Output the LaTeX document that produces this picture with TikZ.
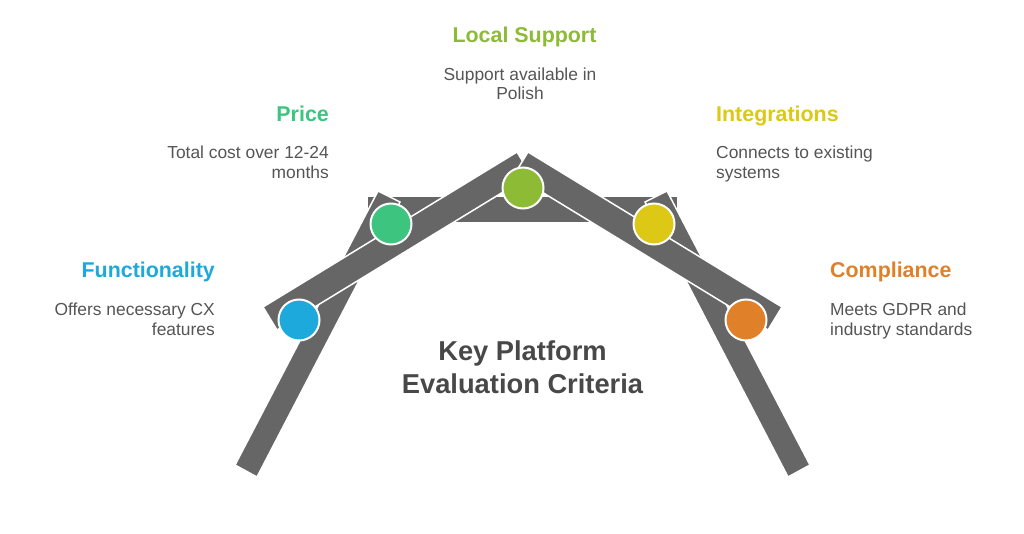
\documentclass[tikz,border=0pt]{standalone}
\usepackage{fontspec}
\setmainfont{Liberation Sans}
\definecolor{cblue}{HTML}{1EA9DC}
\definecolor{cgreen}{HTML}{3DC47E}
\definecolor{colive}{HTML}{8DBB35}
\definecolor{cyellow}{HTML}{DCC815}
\definecolor{corange}{HTML}{E0812A}
\definecolor{barc}{HTML}{666666}
\definecolor{descc}{HTML}{555555}
\definecolor{keyc}{HTML}{484848}
\tikzset{
  beam/.style={fill=barc, draw=white, line width=1.5pt, line join=miter},
  dot/.style={circle, minimum size=41pt, inner sep=0pt, draw=white, line width=2pt},
  ttl/.style={font=\fontsize{21.4}{25}\selectfont\bfseries, inner sep=0pt},
  dsc/.style={font=\fontsize{17.4}{20}\selectfont, text=descc, inner sep=0pt},
  keytext/.style={font=\fontsize{27.3}{33}\selectfont\bfseries, text=keyc, inner sep=0pt, align=center}
}
\begin{document}
\begin{tikzpicture}[x=1pt, y=-1pt]
\useasboundingbox[fill=white] (0,0) rectangle (1024,534);
% horizontal top bar
\fill[barc] (368,197) rectangle (677,222);
% legs
\draw[beam] (235,465) -- (257,477) -- (400,202) -- (378,191) -- cycle;
\draw[beam] (810,465) -- (788,477) -- (645,202) -- (667,191) -- cycle;
% arms
\draw[beam] (263,307) -- (517,152) -- (531,175) -- (277,330) -- cycle;
\draw[beam] (782,307) -- (528,152) -- (514,175) -- (768,330) -- cycle;
% circles
\node[dot, fill=cblue]   (c1) at (299,320) {};
\node[dot, fill=cgreen]  (c2) at (391,224) {};
\node[dot, fill=colive]  (c3) at (523,188) {};
\node[dot, fill=cyellow] (c4) at (654,224) {};
\node[dot, fill=corange] (c5) at (746,320) {};
% labels
\node[ttl, text=colive, anchor=base] (t3) at (524.5,43) {Local Support};
\node[dsc, anchor=base] (d3a) at (520,81) {Support available in};
\node[dsc, anchor=base] (d3b) at (520,100) {Polish};
\node[ttl, text=cgreen, anchor=base east] (t2) at (329,122) {Price};
\node[dsc, anchor=base east] (d2a) at (329,159) {Total cost over 12-24};
\node[dsc, anchor=base east] (d2b) at (329,179) {months};
\node[ttl, text=cblue, anchor=base east] (t1) at (215,277) {Functionality};
\node[dsc, anchor=base east] (d1a) at (215,315) {Offers necessary CX};
\node[dsc, anchor=base east] (d1b) at (215,335) {features};
\node[ttl, text=cyellow, anchor=base west] (t4) at (716,122) {Integrations};
\node[dsc, anchor=base west] (d4a) at (716,159) {Connects to existing};
\node[dsc, anchor=base west] (d4b) at (716,179) {systems};
\node[ttl, text=corange, anchor=base west] (t5) at (830,277) {Compliance};
\node[dsc, anchor=base west] (d5a) at (830,315) {Meets GDPR and};
\node[dsc, anchor=base west] (d5b) at (830,335) {industry standards};
\node[keytext, anchor=base] (k1) at (522.5,360) {Key Platform};
\node[keytext, anchor=base] (k2) at (522.5,393) {Evaluation Criteria};
\end{tikzpicture}
\end{document}
